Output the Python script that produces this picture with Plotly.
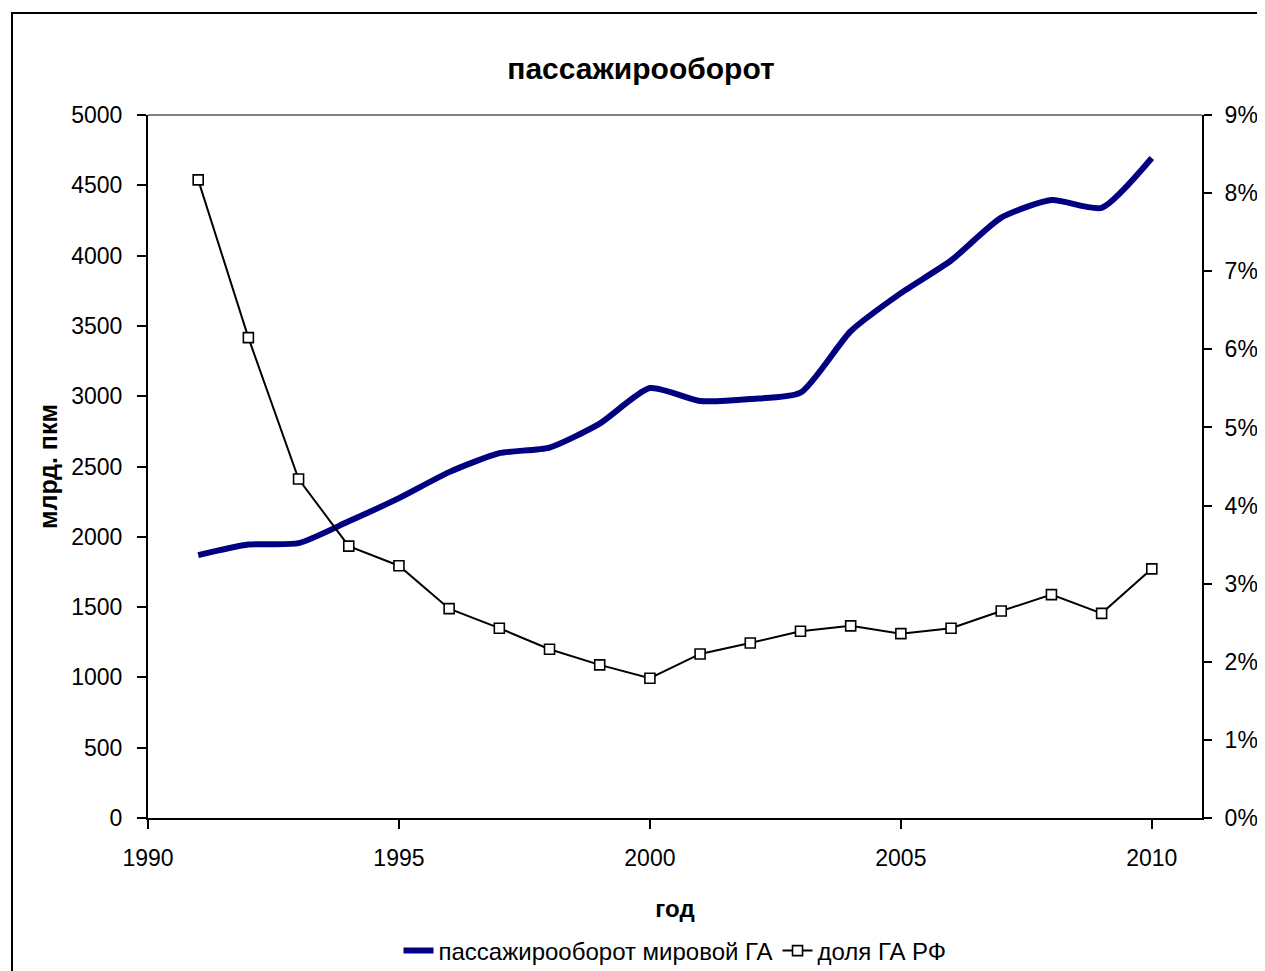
import plotly.graph_objects as go

years = [1991, 1992, 1993, 1994, 1995, 1996, 1997, 1998, 1999, 2000,
         2001, 2002, 2003, 2004, 2005, 2006, 2007, 2008, 2009, 2010]
world_pkm = [1870, 1945, 1955, 2110, 2275, 2460, 2595, 2635, 2805, 3058,
             2966, 2980, 3025, 3462, 3733, 3965, 4270, 4395, 4340, 4694]
share_rf = [8.17, 6.15, 4.34, 3.48, 3.23, 2.68, 2.43, 2.16, 1.96, 1.79,
            2.10, 2.24, 2.39, 2.46, 2.36, 2.43, 2.65, 2.86, 2.62, 3.19]

left_ticks = [0, 500, 1000, 1500, 2000, 2500, 3000, 3500, 4000, 4500, 5000]
right_ticks = [0, 1, 2, 3, 4, 5, 6, 7, 8, 9]
right_labels = [f"{v}%" for v in right_ticks]
x_ticks = [1990, 1995, 2000, 2005, 2010]

FONT = "Liberation Sans, Arial, sans-serif"

fig = go.Figure()
fig.add_trace(go.Scatter(
    x=years, y=world_pkm, mode="lines", name="пассажирооборот мировой ГА",
    line=dict(color="#000080", width=6, shape="spline", smoothing=0.6),
    yaxis="y"))
fig.add_trace(go.Scatter(
    x=years, y=share_rf, mode="lines+markers", name="доля ГА РФ",
    line=dict(color="black", width=2),
    marker=dict(symbol="square", size=10, color="white",
                line=dict(color="black", width=1.6)),
    yaxis="y2"))

fig.update_layout(
    width=1265, height=971,
    margin=dict(l=140, r=71, t=107, b=161, autoexpand=False),
    paper_bgcolor="white", plot_bgcolor="white",
    font=dict(family=FONT, size=23, color="black"),
    title=dict(text="<b>пассажирооборот</b>", x=633 / 1265, xanchor="center",
               xref="container", yref="container",
               y=1 - 60 / 971, yanchor="middle", font=dict(size=30)),
    xaxis=dict(range=[1990, 2011], tickvals=x_ticks, showgrid=False,
               zeroline=False, showline=True, linecolor="black", linewidth=2,
               ticks="outside", ticklen=9, tickwidth=2, tickcolor="black",
               ticklabelstandoff=9, automargin=False,
               title=dict(text="<b>год</b>", font=dict(size=24), standoff=31)),
    yaxis=dict(range=[0, 5000], tickvals=left_ticks, showgrid=False,
               zeroline=False, showline=True, linecolor="black", linewidth=2,
               ticks="outside", ticklen=9, tickwidth=2, tickcolor="black",
               ticklabelstandoff=10, automargin=False,
               title=dict(text="<b>млрд. пкм</b>", font=dict(size=25), standoff=6)),
    yaxis2=dict(range=[0, 9], tickvals=right_ticks, ticktext=right_labels,
                overlaying="y", side="right", showgrid=False, zeroline=False,
                showline=True, linecolor="black", linewidth=2,
                ticks="outside", ticklen=8, tickwidth=2, tickcolor="black",
                ticklabelstandoff=8, automargin=False),
    legend=dict(orientation="h", x=0.5, xanchor="center",
                yref="container", y=1 - 943 / 971, yanchor="middle",
                font=dict(size=24), bgcolor="rgba(0,0,0,0)",
                tracegroupgap=0),
    showlegend=True,
)

# plot-area top border (grey) and outer chart frame
fig.add_shape(type="line", xref="paper", yref="paper", x0=0, x1=1, y0=1, y1=1,
              line=dict(color="#808080", width=2))
fig.add_shape(type="rect", xref="paper", yref="paper",
              x0=(4 - 140) / 1054, x1=(1300 - 140) / 1054,
              y0=(810 - 1000) / 703, y1=(810 - 5) / 703,
              line=dict(color="black", width=2), layer="below")

fig.write_html("out.html")
